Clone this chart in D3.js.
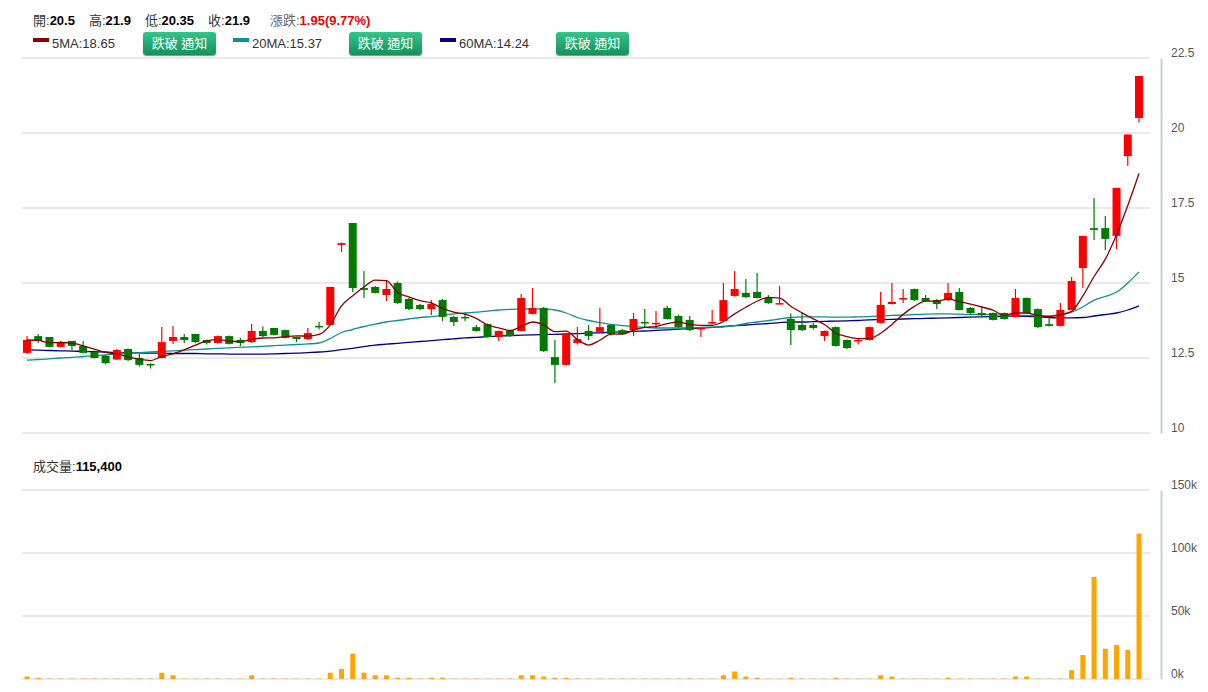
<!DOCTYPE html>
<html>
<head>
<meta charset="utf-8" />
<title>K線圖</title>
<style>
    body { margin: 0; background: #fff; font-family: Arial, "Liberation Sans", "Noto Sans CJK TC", sans-serif; }
    .btn { position: absolute; top: 32px; width: 73px; height: 23px; border-radius: 3px; color: #fff; font-size: 13px;
           text-align: center; line-height: 23px; background: linear-gradient(#34c48a, #13935a); box-shadow: 0 1px 1px #888; }
</style>
</head>
<body>
<div id="container" style="position:relative"></div>
<script src="https://cdn.jsdelivr.net/npm/d3@7/dist/d3.min.js"></script>
<script>
    // 每根K線: 開, 收, 高, 低
    const open  = [12.67,13.23,13.2,12.87,13.07,12.9,12.7,12.57,12.45,12.8, 12.5,12.3,12.5,13.07,13.2,13.3,13.1,13.0,13.23,13.1,
                   13.03,13.4,13.5,13.43,13.2,13.13,13.57,13.6,16.27,17.0, 14.83,14.87,14.6,15.0,14.47,14.27,14.13,14.43,13.87,13.87,
                   13.53,13.63,13.2,13.4,13.4,13.97,14.17,12.53,12.27,13.0, 13.4,13.37,13.6,13.43,13.43,13.7,13.67,14.17,13.9,13.77,
                   13.47,13.7,13.73,14.57,14.67,14.7,14.5,14.33,13.8,13.6, 13.6,13.23,13.53,13.1,13.1,13.1,13.67,14.3,14.5,14.8,
                   14.5,14.43,14.43,14.7,14.17,14.0,14.0,14.0,13.87,14.5, 14.13,13.63,13.57,14.1,15.5,16.83,16.83,16.57,19.23,20.5]
    const close = [13.1,13.07,12.87,13.03,12.9,12.67,12.5,12.33,12.77,12.43, 12.27,12.27,13.03,13.2,13.1,13.03,13.0,13.23,12.97,13.0,
                   13.4,13.23,13.27,13.17,13.13,13.33,13.53,14.87,16.33,14.83, 14.77,14.67,14.8,14.33,14.13,14.13,14.3,13.87,13.7,13.83,
                   13.4,13.2,13.4,13.23,14.5,14.17,12.73,12.27,13.3,13.13, 13.23,13.53,13.3,13.3,13.8,13.67,13.67,13.8,13.53,13.43,
                   13.5,13.7,14.43,14.8,14.53,14.5,14.33,14.33,13.43,13.43, 13.5,13.4,12.9,12.83,13.1,13.53,14.27,14.37,14.5,14.43,
                   14.4,14.3,14.67,14.1,14.0,13.93,13.77,13.8,14.5,14.0, 13.53,13.57,14.1,15.07,16.57,16.77,16.47,18.17,19.95,21.9]
    const high  = [13.23,13.3,13.2,13.07,13.07,13.07,12.75,12.6,12.8,12.82, 12.65,12.33,13.53,13.57,13.3,13.3,13.12,13.25,13.25,13.17,
                   13.63,13.55,13.5,13.45,13.22,13.5,13.7,14.87,16.35,17.0, 15.4,14.9,15.1,15.05,14.5,14.3,14.43,14.47,13.9,14.0,
                   13.6,13.65,13.42,13.45,14.63,14.83,14.2,13.1,13.32,13.53, 13.6,14.17,13.62,13.47,14.0,14.13,14.07,14.23,13.95,13.9,
                   13.52,14.1,15.0,15.4,15.13,15.33,14.6,14.9,13.98,14.0, 13.67,13.42,13.55,13.12,13.15,13.55,14.7,15.0,14.8,14.82,
                   14.6,14.47,15.0,14.83,14.2,14.2,14.02,14.02,14.8,14.52, 14.15,13.87,14.33,15.2,16.57,17.83,17.23,18.17,19.95,21.9]
    const low   = [12.63,13.0,12.85,12.85,12.77,12.65,12.48,12.3,12.43,12.4, 12.22,12.15,12.48,12.97,13.0,13.0,12.95,12.98,12.95,12.9,
                   13.0,13.2,13.25,13.15,13.03,13.1,13.45,13.6,16.03,14.7, 14.5,14.65,14.4,14.3,14.1,14.1,13.93,13.73,13.57,13.73,
                   13.38,13.18,13.07,13.2,13.38,13.95,12.7,11.67,12.25,12.95, 13.1,13.35,13.25,13.27,13.23,13.5,13.5,13.78,13.5,13.4,
                   13.2,13.63,13.7,14.55,14.5,14.48,14.3,14.3,12.93,13.4, 13.45,13.07,12.88,12.8,12.95,13.08,13.65,14.28,14.33,14.4,
                   14.37,14.13,14.4,14.08,13.95,13.9,13.75,13.78,13.85,13.98, 13.5,13.55,13.55,14.1,14.83,16.43,16.1,16.13,18.9,20.35]
    // 成交量 (千張)
    const volume = [2,1,0.3,0.3,0.3,0.3,0.3,0.3,0.3,0.3, 0.3,0.3,5,3,0.3,0.3,0.3,0.3,0.3,0.3,
                    3,0.3,0.3,0.3,0.3,0.3,0.3,5,8,20, 5,3,3,1,1,0.3,1,1,0.3,0.3,
                    0.3,0.3,0.3,0.3,3,3,2,1,1,0.3, 0.3,0.3,0.3,0.3,0.3,0.3,0.3,0.3,0.3,0.3,
                    0.3,0.3,3,6,2,1,0.3,0.3,1,0.3, 0.3,0.3,1,0.3,0.3,0.3,3,2,0.3,0.3,
                    0.3,0.3,1,0.3,0.3,0.3,0.3,0.3,2,2, 0.3,0.3,0.3,7,19,81,24,27,23,115.4]
    const ma20 = [12.43,12.45,12.47,12.5,12.52,12.55,12.58,12.6,12.63,12.66, 12.68,12.7,12.72,12.74,12.76,12.78,12.8,12.82,12.84,12.86,
                  12.87,12.89,12.91,12.93,12.95,12.97,13.0,13.15,13.35,13.45, 13.55,13.63,13.7,13.75,13.8,13.85,13.88,13.92,13.97,14.0,
                  14.03,14.06,14.1,14.12,14.13,14.14,14.13,14.1,14.0,13.85, 13.75,13.68,13.62,13.58,13.55,13.52,13.5,13.5,13.5,13.5,
                  13.52,13.53,13.54,13.58,13.65,13.7,13.75,13.8,13.85,13.87, 13.87,13.87,13.86,13.86,13.87,13.88,13.9,13.92,13.93,13.95,
                  13.96,13.97,13.97,13.96,13.95,13.95,13.94,13.93,13.92,13.92, 13.9,13.9,13.95,14.03,14.2,14.43,14.55,14.7,15.0,15.37]
    const ma60 = [12.77,12.76,12.75,12.74,12.73,12.72,12.71,12.7,12.68,12.67, 12.67,12.66,12.66,12.65,12.65,12.65,12.64,12.64,12.63,12.63,
                  12.63,12.63,12.64,12.65,12.66,12.68,12.7,12.73,12.78,12.82, 12.88,12.93,12.96,12.99,13.02,13.05,13.08,13.11,13.14,13.17,
                  13.19,13.21,13.23,13.25,13.26,13.27,13.28,13.29,13.3,13.31, 13.33,13.34,13.36,13.37,13.39,13.4,13.42,13.44,13.46,13.48,
                  13.5,13.52,13.55,13.58,13.6,13.63,13.65,13.68,13.7,13.7, 13.71,13.72,13.73,13.74,13.75,13.77,13.78,13.79,13.8,13.81,
                  13.82,13.83,13.84,13.85,13.86,13.87,13.88,13.89,13.9,13.89, 13.87,13.85,13.84,13.84,13.85,13.9,13.95,14.0,14.1,14.24]
    const priceTicks = [10, 12.5, 15, 17.5, 20, 22.5]
    const volTicks = [0, 50, 100, 150]

    // 5MA 由收盤價計算 (開頭不足五根時取現有部分)
    const ma5 = close.map((_, i) => d3.mean(close.slice(Math.max(0, i - 4), i + 1)))

    const W = 1208, H = 692
    const svg = d3.select('#container').append('svg').attr('width', W).attr('height', H)
        .style('font-family', 'Arial, "Liberation Sans", "Noto Sans CJK TC", sans-serif')

    const x = d3.scaleLinear().domain([0, close.length - 1]).range([27, 1139])
    const y = d3.scaleLinear().domain([10, 22.5]).range([433, 58])
    const yv = d3.scaleLinear().domain([0, 150]).range([679, 490])
    const gridL = 22, gridR = 1150

    // 網格
    svg.append('g').selectAll('line').data(priceTicks).join('line')
        .attr('x1', gridL).attr('x2', gridR).attr('y1', d => y(d)).attr('y2', d => y(d))
        .attr('stroke', '#d4d4d4').attr('stroke-width', 1.2)
    svg.append('g').selectAll('line').data(volTicks).join('line')
        .attr('x1', gridL).attr('x2', gridR).attr('y1', d => yv(d)).attr('y2', d => yv(d))
        .attr('stroke', '#d4d4d4').attr('stroke-width', 1.2)

    // 右側座標軸
    const axP = svg.append('g').attr('transform', 'translate(1161,0)')
        .call(d3.axisRight(y).tickValues(priceTicks).tickSize(0).tickPadding(10).tickFormat(d3.format('')))
    const axV = svg.append('g').attr('transform', 'translate(1161,0)')
        .call(d3.axisRight(yv).tickValues(volTicks).tickSize(0).tickPadding(10).tickFormat(d => d + 'k'))
    ;[axP, axV].forEach(a => {
        a.select('.domain').attr('stroke', '#c5d0dc').attr('stroke-width', 2)
        a.selectAll('text').attr('fill', '#555').attr('font-size', 12).attr('dy', '-0.1em')
    })

    // 均線
    const line = arr => d3.line().x((_, i) => x(i)).y(d => y(d)).curve(d3.curveMonotoneX)(arr)
    svg.append('path').attr('d', line(ma60)).attr('fill', 'none').attr('stroke', '#000080').attr('stroke-width', 1.3)
    svg.append('path').attr('d', line(ma20)).attr('fill', 'none').attr('stroke', '#0f9090').attr('stroke-width', 1.3)

    // K線
    const data = close.map((c, i) => ({ i, o: open[i], c, h: high[i], l: low[i] }))
    const col = d => d.c >= d.o ? '#ff0000' : '#007a00'
    const k = svg.append('g').selectAll('g').data(data).join('g')
    k.append('line').attr('x1', d => x(d.i)).attr('x2', d => x(d.i))
        .attr('y1', d => y(d.h)).attr('y2', d => y(d.l)).attr('stroke', col).attr('stroke-width', 1.2)
    k.append('rect').attr('x', d => x(d.i) - 4).attr('width', 8)
        .attr('y', d => y(Math.max(d.o, d.c)))
        .attr('height', d => Math.max(1.5, Math.abs(y(d.o) - y(d.c))))
        .attr('fill', col)

    svg.append('path').attr('d', line(ma5)).attr('fill', 'none').attr('stroke', '#8b0000').attr('stroke-width', 1.3)

    // 成交量
    svg.append('g').selectAll('rect').data(volume).join('rect')
        .attr('x', (_, i) => x(i) - 2.5).attr('width', 5)
        .attr('y', d => yv(d)).attr('height', d => yv(0) - yv(d))
        .attr('fill', '#ffa500')

    // 標題列
    const last = data[data.length - 1]
    const hdr = svg.append('text').attr('x', 33).attr('y', 25).attr('font-size', 13).attr('fill', '#333')
    const parts = [['開:', last.o], ['高:', last.h], ['低:', last.l], ['收:', last.c]]
    parts.forEach(([lab, v], j) => {
        hdr.append('tspan').attr('dx', j ? 14 : 0).text(lab)
        hdr.append('tspan').attr('font-weight', 'bold').attr('fill', '#000').text(v)
    })
    const chg = last.c - close[close.length - 2]
    hdr.append('tspan').attr('dx', 20).attr('fill', '#666').text('漲跌:')
    hdr.append('tspan').attr('font-weight', 'bold').attr('fill', '#e00')
        .text(`${chg.toFixed(2)}(${(chg / close[close.length - 2] * 100).toFixed(2)}%)`)

    // 圖例
    const legend = [
        { name: '5MA', v: ma5[ma5.length - 1], c: '#8b0000', x: 33, b: 143 },
        { name: '20MA', v: ma20[ma20.length - 1], c: '#0f9090', x: 233, b: 349 },
        { name: '60MA', v: ma60[ma60.length - 1], c: '#000080', x: 440, b: 556 }
    ]
    legend.forEach(l => {
        svg.append('rect').attr('x', l.x).attr('y', 38).attr('width', 16).attr('height', 4).attr('fill', l.c)
        svg.append('text').attr('x', l.x + 19).attr('y', 48).attr('font-size', 13).attr('fill', '#333')
            .text(`${l.name}:${l.v.toFixed(2)}`)
        d3.select('#container').append('div').attr('class', 'btn').style('left', l.b + 'px').text('跌破 通知')
    })

    const vt = svg.append('text').attr('x', 33).attr('y', 471).attr('font-size', 13).attr('fill', '#333')
    vt.append('tspan').text('成交量:')
    vt.append('tspan').attr('font-weight', 'bold').attr('fill', '#000').text(d3.format(',')(volume[volume.length - 1] * 1000))
</script>
</body>
</html>
